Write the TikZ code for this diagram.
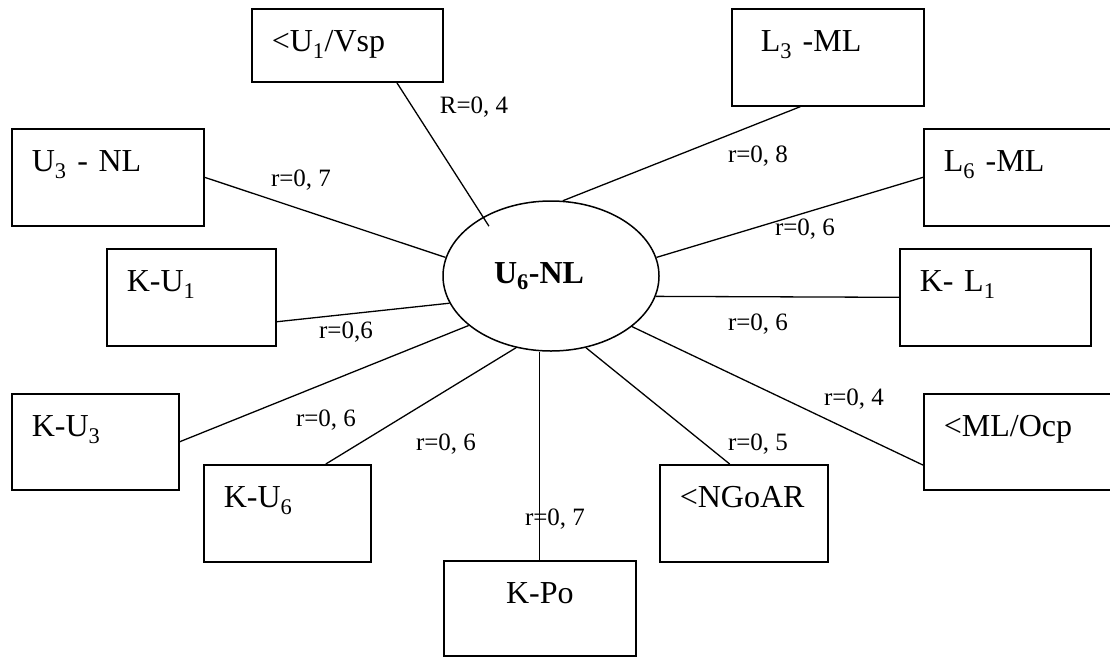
\documentclass[tikz,border=0pt]{standalone}
\usepackage{fontspec}
\setmainfont{Liberation Serif}
\usetikzlibrary{shapes.geometric}

\begin{document}
\begin{tikzpicture}[x=1pt,y=-1pt,
   kasten/.style 2 args={draw,line width=1.6pt,anchor=north west,align=left,
     inner xsep=20pt,inner ysep=0pt,text width=#1pt-40pt,
     text height=43pt,text depth=#2pt-43pt,font=\fontsize{32}{38}\selectfont},
   kern/.style={draw,ellipse,line width=1.5pt,minimum width=216pt,minimum height=150pt,
     inner sep=0pt,font=\fontsize{32}{38}\selectfont\bfseries},
   wert/.style={font=\fontsize{25}{30}\selectfont,inner sep=1pt},
   linie/.style={line width=1.3pt}]
  \useasboundingbox (0,0) rectangle (1110,657);
  \node[kern] (nl) at (551,276) {\hspace*{-24pt}U\textsubscript{6}-NL};
  \node[kasten={191}{73}] (vsp) at (251,8) {<U\textsubscript{1}/Vsp};
  \node[kasten={192}{97}] (l3) at (731,8) {\hspace*{9pt}L\textsubscript{3} -ML};
  \node[kasten={192}{97}] (u3) at (11,128) {U\textsubscript{3} - NL};
  \node[kasten={200}{97}] (l6) at (923,128) {L\textsubscript{6} -ML};
  \node[kasten={169}{97}] (ku1) at (106,248) {K-U\textsubscript{1}};
  \node[kasten={191}{97}] (kl1) at (899,248) {K- L\textsubscript{1}};
  \node[kasten={167}{96}] (ku3) at (11,393) {K-U\textsubscript{3}};
  \node[kasten={200}{96}] (ocp) at (923,393) {<ML/Ocp};
  \node[kasten={167}{97}] (ku6) at (203,464) {K-U\textsubscript{6}};
  \node[kasten={168}{97}] (ngo) at (659,464) {<NGoAR};
  \node[kasten={192}{95},align=center] (kpo) at (443,560) {K-Po};
  \draw[linie,shorten >=-11pt] (vsp.-37) -- (nl.139);
  \draw[linie] (u3.east) -- (nl.170);
  \draw[linie] (ku1.-16) -- (nl.195);
  \draw[linie] (ku3.east) -- (nl.211);
  \draw[linie] (ku6.52) -- (nl.244);
  \draw[linie] (kpo.north) -- (kpo.north |- nl.south);
  \draw[linie] (ngo.106) -- (nl.-64);
  \draw[linie] (ocp.193) -- (nl.-32);
  \draw[linie] (kl1.west) -- (nl.-11);
  \draw[linie] (l6.west) -- (nl.10);
  \draw[linie] (l3.-119) -- (nl.81);
  \node[wert] (w1) at (474,107) {R=0, 4};
  \node[wert] (w2) at (301,180) {r=0, 7};
  \node[wert] (w3) at (758,156) {r=0, 8};
  \node[wert] (w4) at (805,229) {r=0, 6};
  \node[wert] (w5) at (346,332) {r=0,6};
  \node[wert] (w6) at (758,324) {r=0, 6};
  \node[wert] (w7) at (326,420) {r=0, 6};
  \node[wert] (w8) at (446,444) {r=0, 6};
  \node[wert] (w9) at (555,519) {r=0, 7};
  \node[wert] (w10) at (758,444) {r=0, 5};
  \node[wert] (w11) at (854,399) {r=0, 4};
\end{tikzpicture}
\end{document}
